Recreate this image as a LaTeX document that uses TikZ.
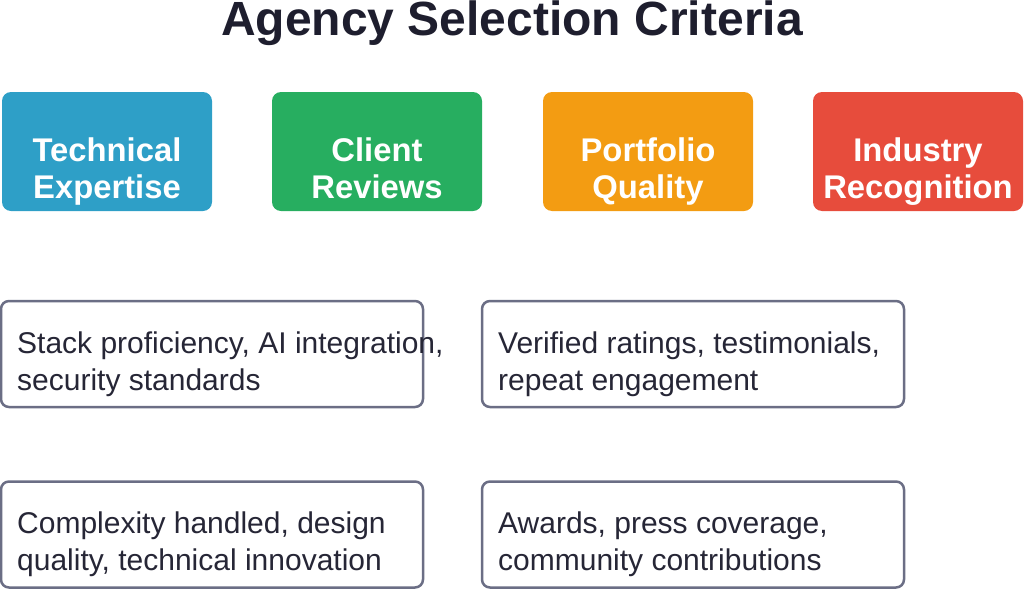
\documentclass[tikz,border=0pt]{standalone}
\usepackage{fontspec}
\setmainfont{Liberation Sans}
\definecolor{techblue}{HTML}{2E9FC7}
\definecolor{reviewgreen}{HTML}{27AE60}
\definecolor{portorange}{HTML}{F39C12}
\definecolor{awardred}{HTML}{E74C3C}
\definecolor{titleink}{HTML}{1E1E2E}
\definecolor{bodyink}{HTML}{262636}
\definecolor{frame}{HTML}{6B6E85}
\begin{document}
\begin{tikzpicture}[x=1pt, y=-1pt,
    crit-box/.style={ rectangle, rounded corners=9pt, draw=none, minimum width=210pt, minimum height=119pt, inner sep=0pt },
    crit-text/.style={ text=white, align=center, anchor=base, font=\fontsize{32.8}{37}\selectfont\bfseries },
    detail-box/.style={ rectangle, rounded corners=8pt, draw=frame, fill=white, line width=2.5pt, minimum width=422pt, minimum height=106pt, inner sep=0pt },
    detail-text/.style={ text=bodyink, align=left, anchor=base west, inner sep=0pt, font=\fontsize{30}{37}\selectfont } ]
            \useasboundingbox (0, 0) rectangle (1024, 589);
            \node[text=titleink, anchor=base, inner sep=0pt, font=\fontsize{48}{56}\selectfont\bfseries] (title) at (512, 35) {Agency Selection Criteria};

            % Criteria
            \node[crit-box, fill=techblue] (tech) at (107, 151.5) {};
            \node[crit-box, fill=reviewgreen] (reviews) at (377, 151.5) {};
            \node[crit-box, fill=portorange] (portfolio) at (648, 151.5) {};
            \node[crit-box, fill=awardred] (industry) at (918, 151.5) {};
            \node[crit-text] (tech-t) at (107, 198) {Technical\\Expertise};
            \node[crit-text] (reviews-t) at (377, 198) {Client\\Reviews};
            \node[crit-text] (portfolio-t) at (648, 198) {Portfolio\\Quality};
            \node[crit-text] (industry-t) at (918, 198) {Industry\\Recognition};

            % Details
            \node[detail-box] (stack) at (212, 354) {};
            \node[detail-box] (ratings) at (693, 354) {};
            \node[detail-box] (complexity) at (212, 534.5) {};
            \node[detail-box] (awards) at (693, 534.5) {};
            \node[detail-text] (stack-t) at (17, 390) {Stack proficiency, AI integration,\\security standards};
            \node[detail-text] (ratings-t) at (498, 390) {Verified ratings, testimonials,\\repeat engagement};
            \node[detail-text] (complexity-t) at (17, 570) {Complexity handled, design\\quality, technical innovation};
            \node[detail-text] (awards-t) at (498, 570) {Awards, press coverage,\\community contributions};
        \end{tikzpicture}
\end{document}
